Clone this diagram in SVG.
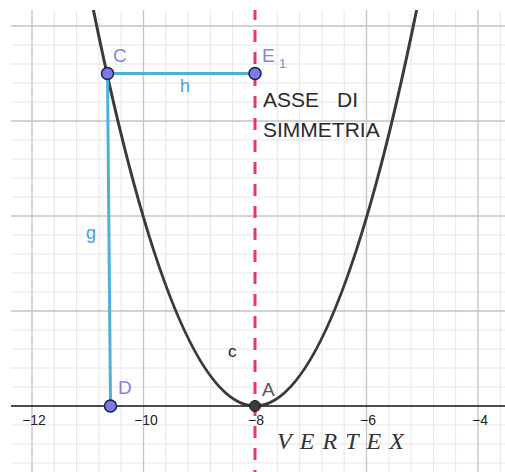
<svg xmlns="http://www.w3.org/2000/svg" width="505" height="472" viewBox="0 0 505 472">
<style>
.minor{stroke:#e6e6e6;stroke-width:1;fill:none}
.major{stroke:#c4c4c4;stroke-width:1.3;fill:none}
.lbl{font-family:"Liberation Sans",Arial,sans-serif}
.pt{fill:#7a7aec;stroke:#1e1e3a;stroke-width:1.5}
.seg{stroke:#4fb0da;stroke-width:3;fill:none;stroke-linecap:round}
.tick{font-family:"Liberation Sans",Arial,sans-serif;font-size:14px;fill:#222;text-anchor:middle}
</style>
<defs>
<clipPath id="area"><rect x="11" y="10" width="494" height="462"/></clipPath>
</defs>
<rect width="505" height="472" fill="#ffffff"/>
<g id="grid" clip-path="url(#area)">
<path class="minor" d="M54.3 10V472M76.6 10V472M98.9 10V472M121.2 10V472M165.8 10V472M188.1 10V472M210.4 10V472M232.7 10V472M277.3 10V472M299.6 10V472M321.9 10V472M344.2 10V472M388.8 10V472M411.1 10V472M433.4 10V472M455.7 10V472M500.3 10V472M11 45H505M11 64H505M11 83H505M11 102H505M11 140H505M11 159H505M11 178H505M11 197H505M11 235H505M11 254H505M11 273H505M11 292H505M11 330H505M11 349H505M11 368H505M11 387H505M11 425H505M11 444H505M11 463H505"/>
<path class="major" d="M32 10V472M143.5 10V472M366.5 10V472M478 10V472M11 26H505M11 121H505M11 216H505M11 311H505"/>
</g>
<g id="axis">
<line x1="11" y1="406" x2="505" y2="406" stroke="#111" stroke-width="1.5"/>
<text class="tick" x="34" y="425">−12</text>
<text class="tick" x="146" y="425">−10</text>
<text class="tick" x="256" y="425">−8</text>
<text class="tick" x="368" y="425">−6</text>
<text class="tick" x="480" y="425">−4</text>
</g>
<g id="connectors" clip-path="url(#area)">
<path id="c" d="M93 8 Q255 804 417 8" fill="none" stroke="#3a3a3a" stroke-width="3"/>
<line id="symmetry-axis" x1="255" y1="10" x2="255" y2="472" stroke="#e8366c" stroke-width="3" stroke-dasharray="12 10" stroke-dashoffset="2"/>
<line id="h" class="seg" x1="107.5" y1="73.5" x2="255" y2="73.5"/>
<line id="g" class="seg" x1="107.5" y1="73.5" x2="110.5" y2="406"/>
</g>
<g id="node-C">
<circle class="pt" cx="107.5" cy="73.5" r="6"/>
<text class="lbl" x="113" y="62" font-size="19" fill="#8484e4">C</text>
</g>
<g id="node-E1">
<circle class="pt" cx="255" cy="73.5" r="6"/>
<text class="lbl" x="262" y="62" font-size="19" fill="#8484e4">E<tspan x="279" y="68" font-size="13">1</tspan></text>
</g>
<g id="node-D">
<circle class="pt" cx="110.5" cy="406" r="6"/>
<text class="lbl" x="118" y="394" font-size="19" fill="#8484e4">D</text>
</g>
<g id="node-A">
<circle cx="255" cy="406" r="5.5" fill="#3c3c3c" stroke="#1a1a1a" stroke-width="1"/>
<text class="lbl" x="262" y="396" font-size="19" fill="#555">A</text>
</g>
<g id="labels">
<text class="lbl" x="180" y="92" font-size="18" fill="#4a9fcc">h</text>
<text class="lbl" x="86" y="239" font-size="18" fill="#4a9fcc">g</text>
<text class="lbl" x="228" y="357" font-size="17" fill="#222">c</text>
<text class="lbl" x="263" y="107" font-size="21" fill="#2a2a2a">ASSE<tspan x="337">DI</tspan></text>
<text class="lbl" x="263" y="137" font-size="21" fill="#2a2a2a">SIMMETRIA</text>
<text x="277" y="449" font-family="'Liberation Serif','Times New Roman',serif" font-style="italic" font-size="24" fill="#333" textLength="127" lengthAdjust="spacing">VERTEX</text>
</g>
</svg>
